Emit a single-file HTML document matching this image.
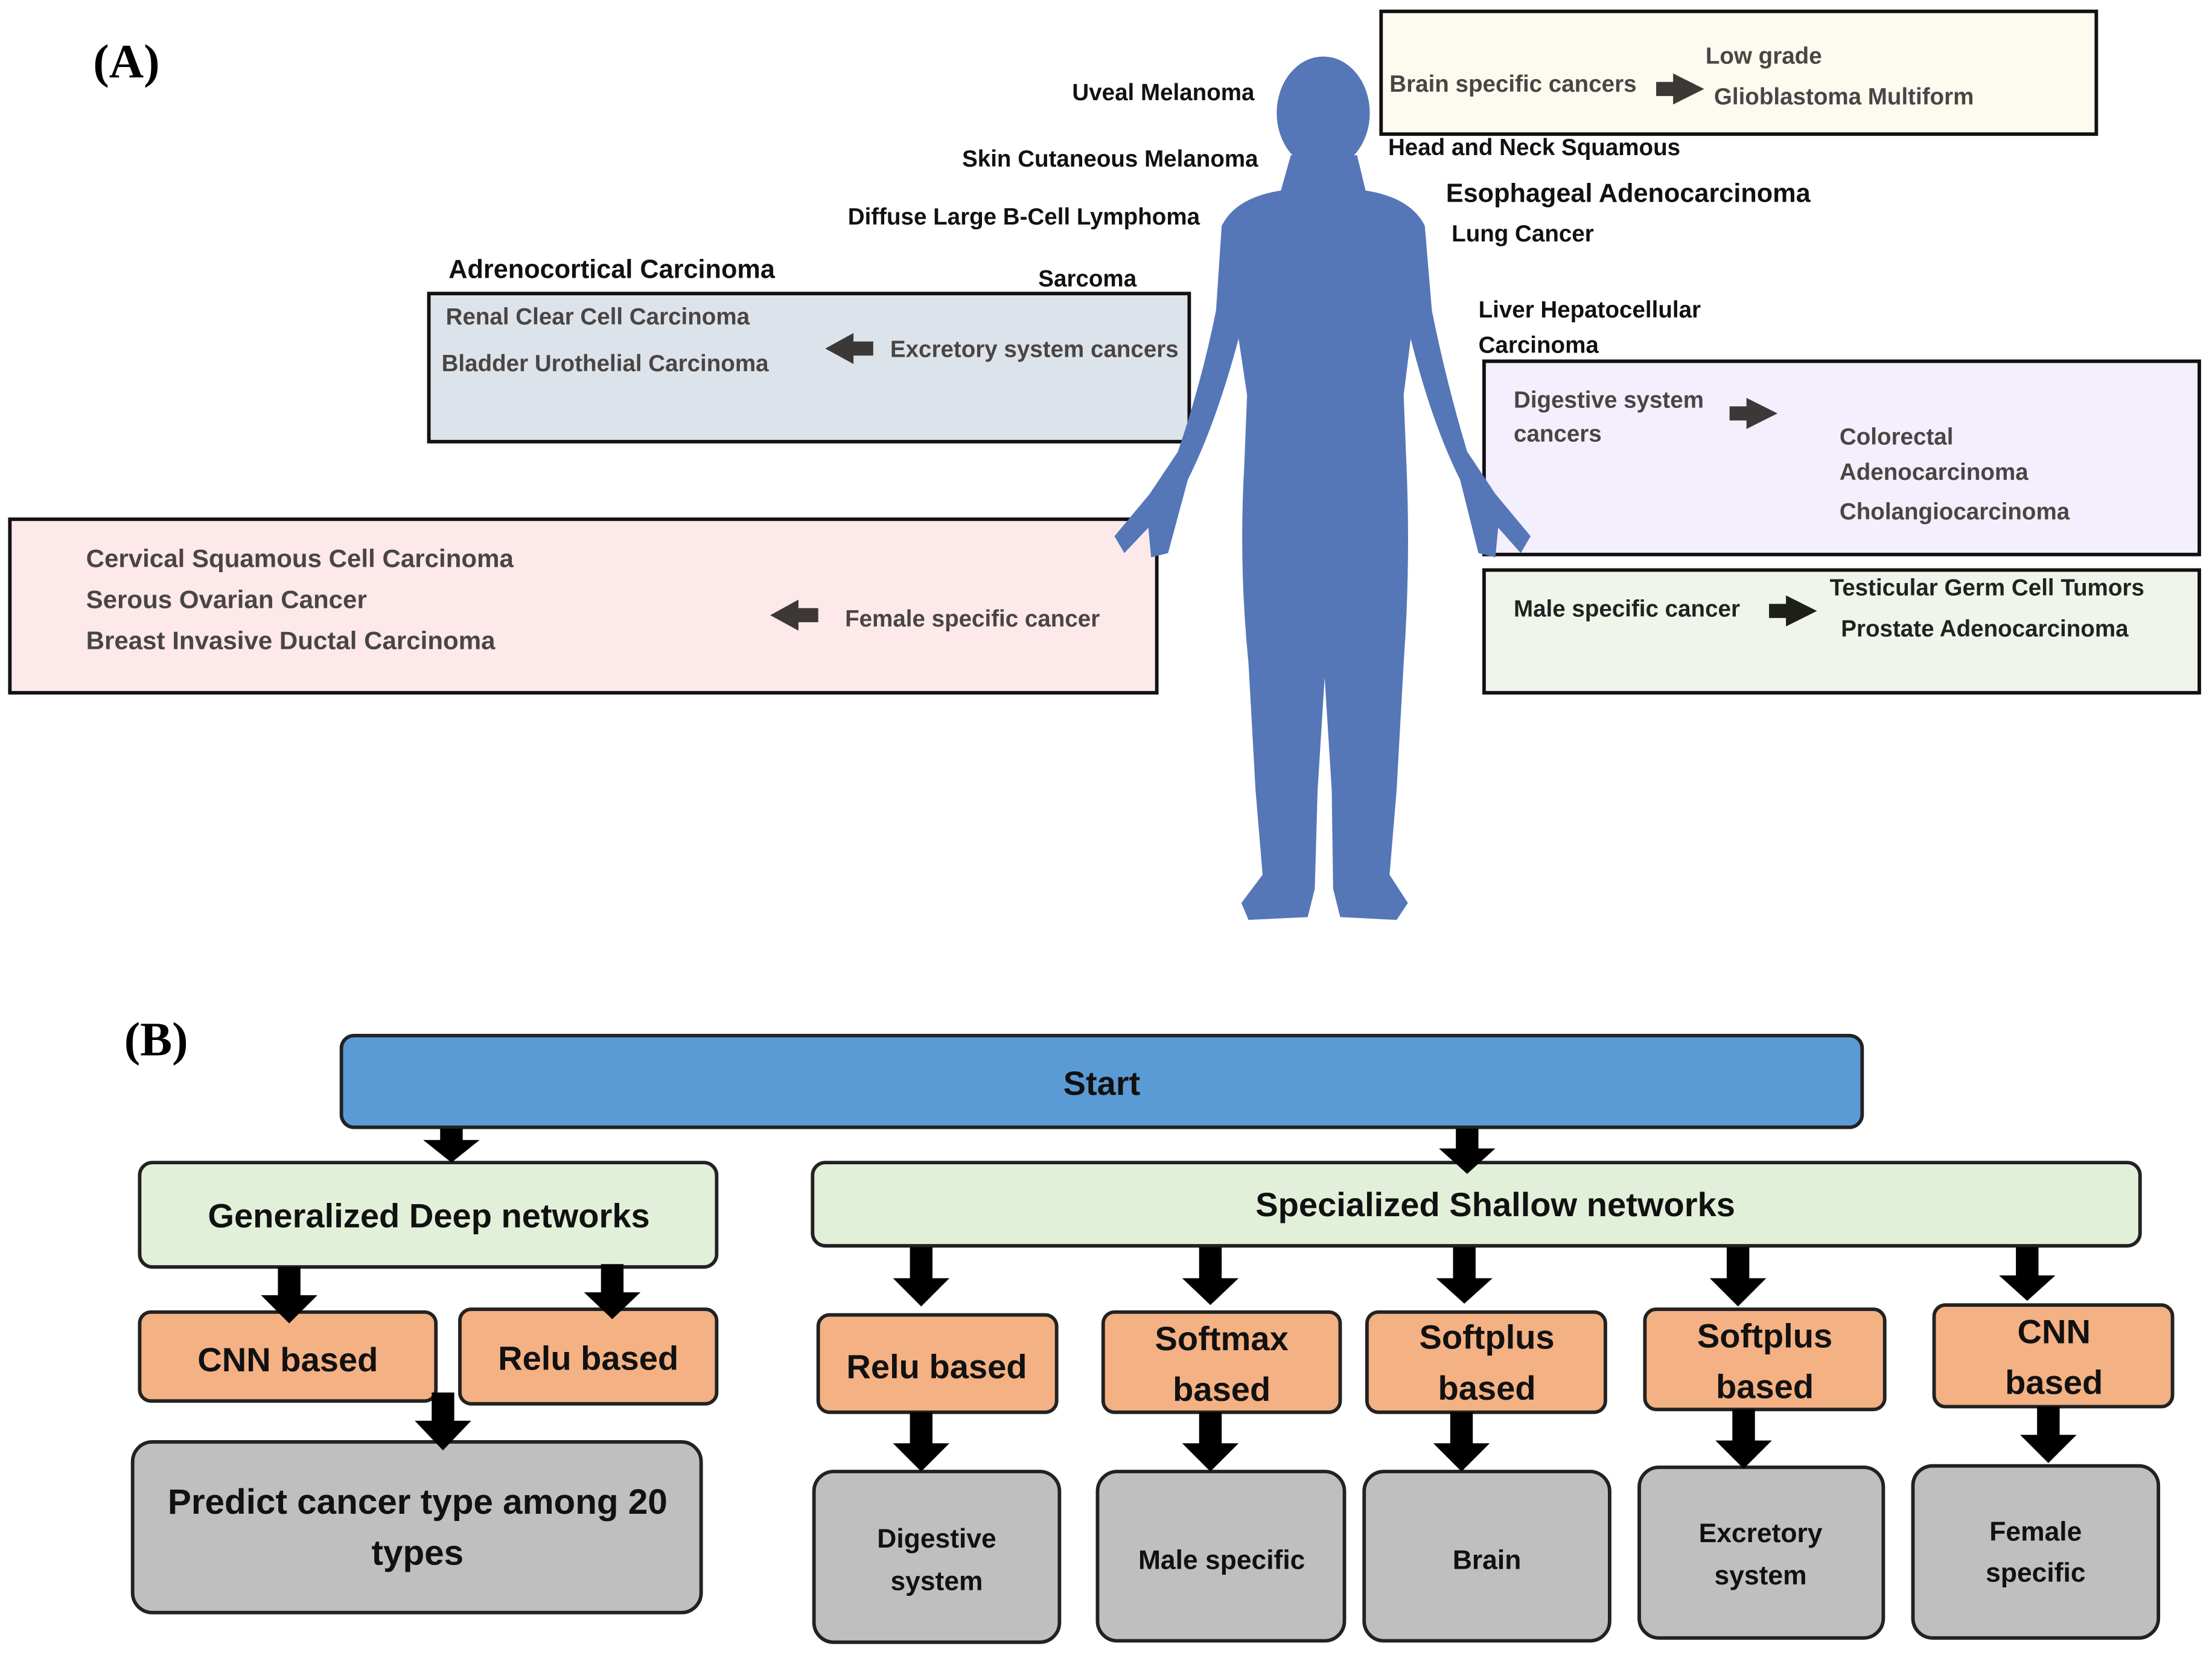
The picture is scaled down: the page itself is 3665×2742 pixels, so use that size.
<!DOCTYPE html>
<html><head><meta charset="utf-8"><style>
html,body{margin:0;padding:0;background:#fff}
svg{display:block}
text{font-family:"Liberation Sans",sans-serif;font-weight:bold}
</style></head><body>
<svg width="3665" height="2742" viewBox="0 0 1568 1173" xmlns="http://www.w3.org/2000/svg">
<defs>
<g id="da"><path d="M-8 0 H8 V-0 Z"/></g>
</defs>
<rect width="1568" height="1173" fill="#fff"/>
<!-- (A) -->
<text x="66" y="55" font-family="Liberation Serif" font-size="34" style="font-family:'Liberation Serif',serif">(A)</text>
<!-- boxes -->
<rect x="979" y="8" width="507" height="87" fill="#fdfaf0" stroke="#111" stroke-width="2.5"/>
<rect x="304" y="208" width="539" height="105" fill="#dde3ea" stroke="#111" stroke-width="2.5"/>
<rect x="7" y="368" width="813" height="123" fill="#fde9ea" stroke="#111" stroke-width="2.5"/>
<rect x="1052" y="256" width="507" height="137" fill="#f3effc" stroke="#111" stroke-width="2.5"/>
<rect x="1052" y="404" width="507" height="87" fill="#eff5ea" stroke="#111" stroke-width="2.5"/>
<!-- human -->
<g fill="#5577b8">
<ellipse cx="938" cy="80" rx="33" ry="40"/>
<path d="M915 110 L962 110 L968 135 Q1000 140 1010 160 L1015 220 Q1025 270 1040 320 L1060 350 L1085 380 L1078 392 L1062 374 L1060 395 L1048 392 L1035 340 Q1015 300 1000 240 L995 280 L997 330 Q1000 400 995 470 L990 560 L985 620 L998 640 L990 652 L950 650 L945 630 L944 560 L939 480 L934 560 L932 630 L927 650 L885 652 L880 640 L895 620 L890 560 L885 470 Q878 400 882 330 L884 280 L878 240 Q862 300 842 340 L828 392 L816 395 L814 374 L797 392 L790 380 L815 350 L835 320 Q852 270 862 220 L866 160 Q876 140 908 135 Z"/>
</g>
<!-- body labels -->
<g font-size="16.5" fill="#111">
<text x="760" y="71">Uveal Melanoma</text>
<text x="682" y="118">Skin Cutaneous Melanoma</text>
<text x="601" y="159">Diffuse Large B-Cell Lymphoma</text>
<text x="736" y="203">Sarcoma</text>
<text x="984" y="110">Head and Neck Squamous</text>
<text x="1025" y="143" font-size="18.5">Esophageal Adenocarcinoma</text>
<text x="1029" y="171">Lung Cancer</text>
<text x="1048" y="225">Liver Hepatocellular</text>
<text x="1048" y="250">Carcinoma</text>
<text x="318" y="197" font-size="18.5">Adrenocortical Carcinoma</text>
</g>
<g font-size="16.5" fill="#4a4545">
<text x="985" y="65">Brain specific cancers</text>
<text x="1209" y="45">Low grade</text>
<text x="1215" y="74">Glioblastoma Multiform</text>
<text x="316" y="230">Renal Clear Cell Carcinoma</text>
<text x="313" y="263">Bladder Urothelial Carcinoma</text>
<text x="631" y="253">Excretory system cancers</text>
<text x="61" y="402" font-size="18">Cervical Squamous Cell Carcinoma</text>
<text x="61" y="431" font-size="18">Serous Ovarian Cancer</text>
<text x="61" y="460" font-size="18">Breast Invasive Ductal Carcinoma</text>
<text x="599" y="444">Female specific cancer</text>
<text x="1073" y="289">Digestive system</text>
<text x="1073" y="313">cancers</text>
<text x="1304" y="315">Colorectal</text>
<text x="1304" y="340">Adenocarcinoma</text>
<text x="1304" y="368">Cholangiocarcinoma</text>
<text x="1073" y="437" fill="#222">Male specific cancer</text>
<text x="1297" y="422" fill="#222">Testicular Germ Cell Tumors</text>
<text x="1305" y="451" fill="#222">Prostate Adenocarcinoma</text>
</g>
<!-- horizontal arrows -->
<g fill="#3d3838">
<path d="M1174 58 h12 v-6 l22 11 l-22 11 v-6 h-12 z"/>
<path d="M1226 288 h12 v-6 l22 11 l-22 11 v-6 h-12 z"/>
<path d="M1254 428 h12 v-6 l22 11 l-22 11 v-6 h-12 z" fill="#1f1f1a"/>
<path d="M619 242 h-14 v-6 l-20 11 l20 11 v-6 h14 z"/>
<path d="M580 431 h-14 v-6 l-20 11 l20 11 v-6 h14 z"/>
</g>
<!-- (B) -->
<text x="88" y="748" font-size="34" style="font-family:'Liberation Serif',serif">(B)</text>
<g stroke="#222" stroke-width="2.5">
<rect x="242" y="734" width="1078" height="65" rx="9" fill="#5b9bd5"/>
<rect x="99" y="824" width="409" height="74" rx="9" fill="#e3f0d9"/>
<rect x="576" y="824" width="941" height="59" rx="9" fill="#e3f0d9"/>
<g fill="#f4b183">
<rect x="99" y="930" width="210" height="63" rx="8"/>
<rect x="326" y="928" width="182" height="67" rx="8"/>
<rect x="580" y="932" width="169" height="69" rx="8"/>
<rect x="782" y="930" width="168" height="71" rx="8"/>
<rect x="969" y="930" width="169" height="71" rx="8"/>
<rect x="1166" y="928" width="170" height="71" rx="8"/>
<rect x="1371" y="925" width="169" height="72" rx="8"/>
</g>
<g fill="#bfbfbf">
<rect x="94" y="1022" width="403" height="121" rx="14"/>
<rect x="577" y="1043" width="174" height="121" rx="14"/>
<rect x="778" y="1043" width="175" height="120" rx="14"/>
<rect x="967" y="1043" width="174" height="120" rx="14"/>
<rect x="1162" y="1040" width="173" height="121" rx="14"/>
<rect x="1356" y="1039" width="174" height="122" rx="14"/>
</g>
</g>
<!-- down arrows -->
<g fill="#000">
<path d="M312 800 h16 v8 h12 l-20 16 l-20 -16 h12 z"/>
<path d="M1032 800 h16 v14 h12 l-20 18 l-20 -18 h12 z"/>
<path d="M197 898 h16 v20 h12 l-20 20 l-20 -20 h12 z"/>
<path d="M426 896 h16 v20 h12 l-20 19 l-20 -19 h12 z"/>
<path d="M306 987 h16 v20 h12 l-20 21 l-20 -21 h12 z"/>
<path d="M645 884 h16 v22 h12 l-20 20 l-20 -20 h12 z"/>
<path d="M850 884 h16 v22 h12 l-20 19 l-20 -19 h12 z"/>
<path d="M1030 884 h16 v22 h12 l-20 18 l-20 -18 h12 z"/>
<path d="M1224 884 h16 v22 h12 l-20 20 l-20 -20 h12 z"/>
<path d="M1429 884 h16 v20 h12 l-20 18 l-20 -18 h12 z"/>
<path d="M645 1001 h16 v22 h12 l-20 20 l-20 -20 h12 z"/>
<path d="M850 1001 h16 v22 h12 l-20 20 l-20 -20 h12 z"/>
<path d="M1028 1001 h16 v22 h12 l-20 20 l-20 -20 h12 z"/>
<path d="M1228 999 h16 v22 h12 l-20 20 l-20 -20 h12 z"/>
<path d="M1444 997 h16 v20 h12 l-20 20 l-20 -20 h12 z"/>
</g>
<!-- B texts -->
<g fill="#111" text-anchor="middle">
<text x="781" y="776" font-size="24">Start</text>
<text x="304" y="870" font-size="24">Generalized Deep networks</text>
<text x="1060" y="862" font-size="24">Specialized Shallow networks</text>
<text x="204" y="972" font-size="24">CNN based</text>
<text x="417" y="971" font-size="24">Relu based</text>
<text x="664" y="977" font-size="24">Relu based</text>
<text x="866" y="957" font-size="24">Softmax</text>
<text x="866" y="993" font-size="24">based</text>
<text x="1054" y="956" font-size="24">Softplus</text>
<text x="1054" y="992" font-size="24">based</text>
<text x="1251" y="955" font-size="24">Softplus</text>
<text x="1251" y="991" font-size="24">based</text>
<text x="1456" y="952" font-size="24">CNN</text>
<text x="1456" y="988" font-size="24">based</text>
<text x="296" y="1073" font-size="25">Predict cancer type among 20</text>
<text x="296" y="1109" font-size="25">types</text>
<text x="664" y="1097" font-size="19">Digestive</text>
<text x="664" y="1127" font-size="19">system</text>
<text x="866" y="1112" font-size="19">Male specific</text>
<text x="1054" y="1112" font-size="19">Brain</text>
<text x="1248" y="1093" font-size="19">Excretory</text>
<text x="1248" y="1123" font-size="19">system</text>
<text x="1443" y="1092" font-size="19">Female</text>
<text x="1443" y="1121" font-size="19">specific</text>
</g>
</svg>
</body></html>
